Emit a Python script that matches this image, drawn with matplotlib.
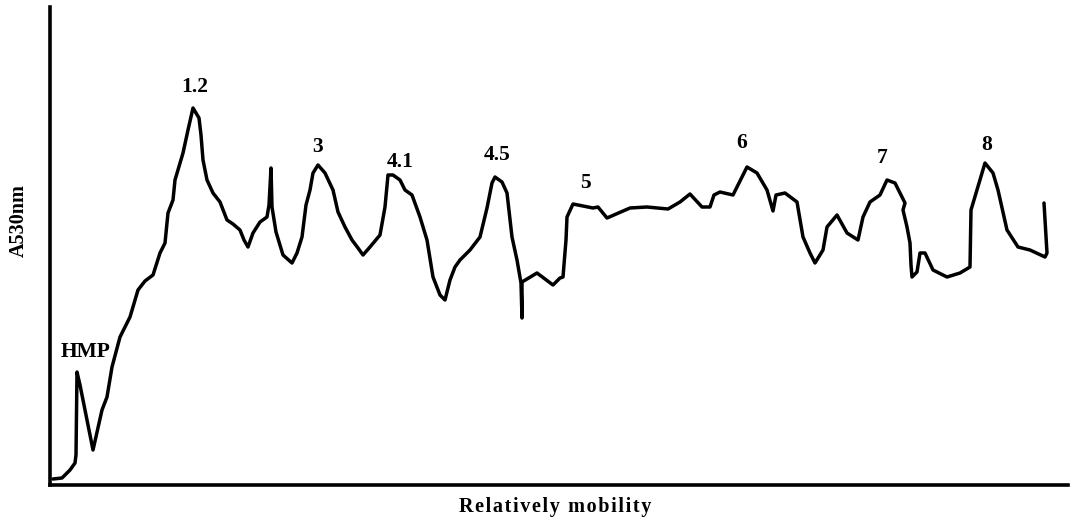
import numpy as np
import matplotlib
matplotlib.use('Agg')
import matplotlib.pyplot as plt

# Densitometric scan of the gel lane (arbitrary units)
mobility = [3, 12, 20, 25, 26, 27, 30, 36, 43, 48, 52, 57, 62, 70, 80, 88, 95, 103,
            110, 115, 118, 123, 125, 130, 133, 138, 143, 149, 151, 153, 157, 163, 170,
            177, 183, 190, 194, 198, 203, 210, 217, 219, 221, 222, 226, 233, 242, 247,
            252, 256, 260, 263, 268, 275, 283, 288, 295, 302, 308, 313, 320, 330, 335,
            338, 343, 350, 355, 362, 370, 377, 383, 390, 395, 400, 405, 410, 420, 430,
            437, 442, 445, 452, 457, 462, 467, 471, 472, 472, 487, 503, 510, 513, 516,
            517, 523, 543, 548, 557, 580, 597, 618, 630, 640, 652, 660, 664, 670, 683,
            697, 707, 717, 723, 726, 735, 747, 753, 760, 765, 773, 777, 787, 797, 808,
            813, 820, 830, 837, 845, 850, 855, 853, 857, 860, 861, 862, 867, 870, 875,
            883, 897, 910, 920, 921, 927, 935, 943, 948, 957, 968, 980, 995, 997, 994]
absorbance = [6, 7, 15, 22, 30, 113, 100, 70, 35, 57, 75, 88, 118, 148, 168, 195, 204, 210,
              232, 242, 272, 285, 305, 322, 332, 355, 377, 367, 350, 325, 305, 292, 283,
              265, 261, 255, 245, 238, 252, 263, 268, 280, 317, 278, 253, 230, 222, 232,
              248, 280, 295, 312, 320, 312, 295, 273, 258, 245, 237, 230, 238, 250, 278,
              310, 310, 305, 295, 290, 268, 245, 208, 190, 185, 205, 218, 225, 235, 248,
              277, 302, 308, 303, 292, 248, 225, 202, 167, 203, 212, 200, 207, 208, 245,
              268, 281, 277, 278, 267, 277, 278, 276, 283, 291, 278, 278, 290, 293, 290,
              318, 312, 295, 274, 290, 292, 283, 248, 232, 222, 235, 258, 270, 252, 245,
              268, 283, 290, 305, 302, 292, 282, 275, 258, 242, 220, 208, 213, 232, 232,
              215, 208, 212, 218, 275, 295, 322, 312, 295, 255, 238, 235, 228, 232, 282]

# Band names and where they sit above the trace
band_names = ['HMP', '1.2', '3', '4.1', '4.5', '5', '6', '7', '8']
band_x = [36, 145, 268, 350, 447, 535, 692, 832, 937]
band_y = [133, 398, 338, 323, 330, 302, 342, 327, 340]

plt.rcParams['font.family'] = ['Liberation Serif', 'DejaVu Serif']

fig = plt.figure(figsize=(10.71, 5.2), dpi=100)
ax = fig.add_axes([50 / 1071, 35 / 520, 1018 / 1071, 478 / 520])

ax.plot(mobility, absorbance, color='black', linewidth=2.5,
        solid_joinstyle='round', solid_capstyle='round')

for name, bx, by in zip(band_names, band_x, band_y):
    ax.text(bx, by, name, ha='center', va='center', fontsize=15.5, fontweight='bold')

ax.set_xlim(0, 1018)
ax.set_ylim(0, 478)
ax.set_xticks([])
ax.set_yticks([])
for side in ['top', 'right']:
    ax.spines[side].set_visible(False)
for side in ['left', 'bottom']:
    ax.spines[side].set_linewidth(2.6)

ax.text(0.496, -0.046, '\u200a'.join('Relatively mobility'), transform=ax.transAxes,
        ha='center', va='center', fontsize=14.5, fontweight='bold')
ax.text(-0.031, 0.554, 'A530nm', transform=ax.transAxes, rotation=90,
        ha='center', va='center', fontsize=14.5, fontweight='bold')

fig.savefig('out.png', dpi=100)
